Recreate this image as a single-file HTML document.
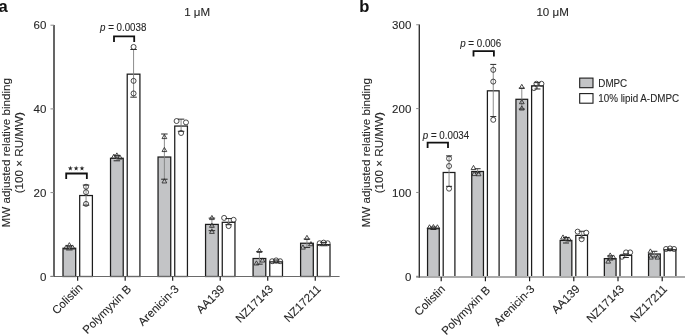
<!DOCTYPE html>
<html><head><meta charset="utf-8"><style>
html,body{margin:0;padding:0;background:#fff;width:685px;height:335px;overflow:hidden;}
svg{display:block;will-change:transform;} text{stroke:#262626;stroke-width:0.1px;}
</style></head><body>
<svg width="685" height="335" viewBox="0 0 685 335" font-family='"Liberation Sans", sans-serif'>
<rect width="685" height="335" fill="#fff"/>
<rect x="63.00" y="248.26" width="12.70" height="28.24" fill="#c3c4c6" stroke="#1c1c1c" stroke-width="1.25"/>
<line x1="69.35" y1="245.75" x2="69.35" y2="249.93" stroke="#808080" stroke-width="0.9"/>
<line x1="66.10" y1="245.75" x2="72.60" y2="245.75" stroke="#2a2a2a" stroke-width="1"/>
<line x1="66.10" y1="249.93" x2="72.60" y2="249.93" stroke="#2a2a2a" stroke-width="1"/>
<polygon points="63.75,249.08 68.55,249.08 66.15,244.93" fill="none" stroke="#2a2a2a" stroke-width="0.85"/>
<polygon points="66.95,246.78 71.75,246.78 69.35,242.62" fill="none" stroke="#2a2a2a" stroke-width="0.85"/>
<polygon points="70.15,249.08 74.95,249.08 72.55,244.93" fill="none" stroke="#2a2a2a" stroke-width="0.85"/>
<rect x="79.70" y="195.53" width="12.70" height="80.97" fill="#fff" stroke="#1c1c1c" stroke-width="1.25"/>
<line x1="86.05" y1="185.07" x2="86.05" y2="205.16" stroke="#808080" stroke-width="0.9"/>
<line x1="82.80" y1="185.07" x2="89.30" y2="185.07" stroke="#2a2a2a" stroke-width="1"/>
<line x1="82.80" y1="205.16" x2="89.30" y2="205.16" stroke="#2a2a2a" stroke-width="1"/>
<circle cx="86.05" cy="186.74" r="2.5" fill="none" stroke="#2a2a2a" stroke-width="0.85"/>
<circle cx="86.05" cy="192.18" r="2.5" fill="none" stroke="#2a2a2a" stroke-width="0.85"/>
<circle cx="86.05" cy="203.90" r="2.5" fill="none" stroke="#2a2a2a" stroke-width="0.85"/>
<rect x="110.52" y="158.28" width="12.70" height="118.22" fill="#c3c4c6" stroke="#1c1c1c" stroke-width="1.25"/>
<line x1="116.87" y1="155.35" x2="116.87" y2="160.79" stroke="#808080" stroke-width="0.9"/>
<line x1="113.62" y1="155.35" x2="120.12" y2="155.35" stroke="#2a2a2a" stroke-width="1"/>
<line x1="113.62" y1="160.79" x2="120.12" y2="160.79" stroke="#2a2a2a" stroke-width="1"/>
<polygon points="111.47,158.27 116.27,158.27 113.87,154.11" fill="none" stroke="#2a2a2a" stroke-width="0.85"/>
<polygon points="114.47,157.01 119.27,157.01 116.87,152.86" fill="none" stroke="#2a2a2a" stroke-width="0.85"/>
<polygon points="117.47,159.11 122.27,159.11 119.87,154.95" fill="none" stroke="#2a2a2a" stroke-width="0.85"/>
<rect x="127.22" y="74.16" width="12.70" height="202.34" fill="#fff" stroke="#1c1c1c" stroke-width="1.25"/>
<line x1="133.57" y1="49.47" x2="133.57" y2="97.18" stroke="#808080" stroke-width="0.9"/>
<line x1="130.32" y1="49.47" x2="136.82" y2="49.47" stroke="#2a2a2a" stroke-width="1"/>
<line x1="130.32" y1="97.18" x2="136.82" y2="97.18" stroke="#2a2a2a" stroke-width="1"/>
<circle cx="133.57" cy="46.96" r="2.5" fill="none" stroke="#2a2a2a" stroke-width="0.85"/>
<circle cx="133.57" cy="80.86" r="2.5" fill="none" stroke="#2a2a2a" stroke-width="0.85"/>
<circle cx="133.57" cy="93.42" r="2.5" fill="none" stroke="#2a2a2a" stroke-width="0.85"/>
<rect x="158.04" y="157.03" width="12.70" height="119.47" fill="#c3c4c6" stroke="#1c1c1c" stroke-width="1.25"/>
<line x1="164.39" y1="134.01" x2="164.39" y2="179.21" stroke="#808080" stroke-width="0.9"/>
<line x1="161.14" y1="134.01" x2="167.64" y2="134.01" stroke="#2a2a2a" stroke-width="1"/>
<line x1="161.14" y1="179.21" x2="167.64" y2="179.21" stroke="#2a2a2a" stroke-width="1"/>
<polygon points="161.99,138.60 166.79,138.60 164.39,134.44" fill="none" stroke="#2a2a2a" stroke-width="0.85"/>
<polygon points="161.99,151.57 166.79,151.57 164.39,147.42" fill="none" stroke="#2a2a2a" stroke-width="0.85"/>
<polygon points="161.99,182.96 166.79,182.96 164.39,178.80" fill="none" stroke="#2a2a2a" stroke-width="0.85"/>
<rect x="174.74" y="126.06" width="12.70" height="150.44" fill="#fff" stroke="#1c1c1c" stroke-width="1.25"/>
<line x1="181.09" y1="119.15" x2="181.09" y2="131.29" stroke="#808080" stroke-width="0.9"/>
<line x1="177.84" y1="119.15" x2="184.34" y2="119.15" stroke="#2a2a2a" stroke-width="1"/>
<line x1="177.84" y1="131.29" x2="184.34" y2="131.29" stroke="#2a2a2a" stroke-width="1"/>
<circle cx="176.59" cy="121.04" r="2.5" fill="none" stroke="#2a2a2a" stroke-width="0.85"/>
<circle cx="185.99" cy="122.42" r="2.5" fill="none" stroke="#2a2a2a" stroke-width="0.85"/>
<circle cx="181.09" cy="133.01" r="2.5" fill="none" stroke="#2a2a2a" stroke-width="0.85"/>
<rect x="205.56" y="224.41" width="12.70" height="52.09" fill="#c3c4c6" stroke="#1c1c1c" stroke-width="1.25"/>
<line x1="211.91" y1="218.13" x2="211.91" y2="230.68" stroke="#808080" stroke-width="0.9"/>
<line x1="208.66" y1="218.13" x2="215.16" y2="218.13" stroke="#2a2a2a" stroke-width="1"/>
<line x1="208.66" y1="230.68" x2="215.16" y2="230.68" stroke="#2a2a2a" stroke-width="1"/>
<polygon points="209.51,219.58 214.31,219.58 211.91,215.42" fill="none" stroke="#2a2a2a" stroke-width="0.85"/>
<polygon points="209.51,227.32 214.31,227.32 211.91,223.16" fill="none" stroke="#2a2a2a" stroke-width="0.85"/>
<polygon points="209.51,233.39 214.31,233.39 211.91,229.23" fill="none" stroke="#2a2a2a" stroke-width="0.85"/>
<rect x="222.26" y="222.31" width="12.70" height="54.19" fill="#fff" stroke="#1c1c1c" stroke-width="1.25"/>
<line x1="228.61" y1="218.55" x2="228.61" y2="224.70" stroke="#808080" stroke-width="0.9"/>
<line x1="225.36" y1="218.55" x2="231.86" y2="218.55" stroke="#2a2a2a" stroke-width="1"/>
<line x1="225.36" y1="224.70" x2="231.86" y2="224.70" stroke="#2a2a2a" stroke-width="1"/>
<circle cx="224.11" cy="217.92" r="2.5" fill="none" stroke="#2a2a2a" stroke-width="0.85"/>
<circle cx="233.61" cy="219.80" r="2.5" fill="none" stroke="#2a2a2a" stroke-width="0.85"/>
<circle cx="228.61" cy="226.08" r="2.5" fill="none" stroke="#2a2a2a" stroke-width="0.85"/>
<rect x="253.08" y="258.51" width="12.70" height="17.99" fill="#c3c4c6" stroke="#1c1c1c" stroke-width="1.25"/>
<line x1="259.43" y1="251.61" x2="259.43" y2="264.16" stroke="#808080" stroke-width="0.9"/>
<line x1="256.18" y1="251.61" x2="262.68" y2="251.61" stroke="#2a2a2a" stroke-width="1"/>
<line x1="256.18" y1="264.16" x2="262.68" y2="264.16" stroke="#2a2a2a" stroke-width="1"/>
<polygon points="257.03,252.43 261.83,252.43 259.43,248.27" fill="none" stroke="#2a2a2a" stroke-width="0.85"/>
<polygon points="254.03,264.99 258.83,264.99 256.43,260.83" fill="none" stroke="#2a2a2a" stroke-width="0.85"/>
<polygon points="260.03,262.06 264.83,262.06 262.43,257.90" fill="none" stroke="#2a2a2a" stroke-width="0.85"/>
<rect x="269.78" y="261.86" width="12.70" height="14.64" fill="#fff" stroke="#1c1c1c" stroke-width="1.25"/>
<line x1="276.13" y1="259.98" x2="276.13" y2="262.91" stroke="#808080" stroke-width="0.9"/>
<line x1="272.88" y1="259.98" x2="279.38" y2="259.98" stroke="#2a2a2a" stroke-width="1"/>
<line x1="272.88" y1="262.91" x2="279.38" y2="262.91" stroke="#2a2a2a" stroke-width="1"/>
<circle cx="272.13" cy="261.23" r="2.5" fill="none" stroke="#2a2a2a" stroke-width="0.85"/>
<circle cx="276.13" cy="260.40" r="2.5" fill="none" stroke="#2a2a2a" stroke-width="0.85"/>
<circle cx="280.13" cy="261.23" r="2.5" fill="none" stroke="#2a2a2a" stroke-width="0.85"/>
<rect x="300.60" y="243.24" width="12.70" height="33.26" fill="#c3c4c6" stroke="#1c1c1c" stroke-width="1.25"/>
<line x1="306.95" y1="239.05" x2="306.95" y2="247.42" stroke="#808080" stroke-width="0.9"/>
<line x1="303.70" y1="239.05" x2="310.20" y2="239.05" stroke="#2a2a2a" stroke-width="1"/>
<line x1="303.70" y1="247.42" x2="310.20" y2="247.42" stroke="#2a2a2a" stroke-width="1"/>
<polygon points="304.55,239.46 309.35,239.46 306.95,235.30" fill="none" stroke="#2a2a2a" stroke-width="0.85"/>
<polygon points="300.55,249.08 305.35,249.08 302.95,244.93" fill="none" stroke="#2a2a2a" stroke-width="0.85"/>
<polygon points="308.55,245.74 313.35,245.74 310.95,241.58" fill="none" stroke="#2a2a2a" stroke-width="0.85"/>
<rect x="317.30" y="244.70" width="12.70" height="31.80" fill="#fff" stroke="#1c1c1c" stroke-width="1.25"/>
<line x1="323.65" y1="242.40" x2="323.65" y2="245.75" stroke="#808080" stroke-width="0.9"/>
<line x1="320.40" y1="242.40" x2="326.90" y2="242.40" stroke="#2a2a2a" stroke-width="1"/>
<line x1="320.40" y1="245.75" x2="326.90" y2="245.75" stroke="#2a2a2a" stroke-width="1"/>
<circle cx="319.65" cy="243.24" r="2.5" fill="none" stroke="#2a2a2a" stroke-width="0.85"/>
<circle cx="323.65" cy="242.61" r="2.5" fill="none" stroke="#2a2a2a" stroke-width="0.85"/>
<circle cx="327.65" cy="243.24" r="2.5" fill="none" stroke="#2a2a2a" stroke-width="0.85"/>
<line x1="50.5" y1="276.5" x2="339.6" y2="276.5" stroke="#6a6a6a" stroke-width="1.2"/>
<line x1="54" y1="25.05" x2="54" y2="277.1" stroke="#555" stroke-width="1.8"/>
<line x1="50.5" y1="276.30" x2="54" y2="276.30" stroke="#8a8a8a" stroke-width="1"/>
<text x="46.3" y="280.50" text-anchor="end" font-size="11.5" fill="#262626">0</text>
<line x1="50.5" y1="192.60" x2="54" y2="192.60" stroke="#8a8a8a" stroke-width="1"/>
<text x="46.3" y="196.80" text-anchor="end" font-size="11.5" fill="#262626">20</text>
<line x1="50.5" y1="108.90" x2="54" y2="108.90" stroke="#8a8a8a" stroke-width="1"/>
<text x="46.3" y="113.10" text-anchor="end" font-size="11.5" fill="#262626">40</text>
<line x1="50.5" y1="25.20" x2="54" y2="25.20" stroke="#8a8a8a" stroke-width="1"/>
<text x="46.3" y="29.40" text-anchor="end" font-size="11.5" fill="#262626">60</text>
<line x1="77.65" y1="276.5" x2="77.65" y2="280.7" stroke="#151515" stroke-width="1.15"/>
<text x="83.35" y="288.40" text-anchor="end" font-size="11.5" fill="#262626" transform="rotate(-45 83.35 288.40)">Colistin</text>
<line x1="125.17" y1="276.5" x2="125.17" y2="280.7" stroke="#151515" stroke-width="1.15"/>
<text x="131.97" y="289.80" text-anchor="end" font-size="11.5" fill="#262626" transform="rotate(-45 131.97 289.80)">Polymyxin B</text>
<line x1="172.69" y1="276.5" x2="172.69" y2="280.7" stroke="#151515" stroke-width="1.15"/>
<text x="179.49" y="289.80" text-anchor="end" font-size="11.5" fill="#262626" transform="rotate(-45 179.49 289.80)">Arenicin-3</text>
<line x1="220.21" y1="276.5" x2="220.21" y2="280.7" stroke="#151515" stroke-width="1.15"/>
<text x="225.31" y="289.80" text-anchor="end" font-size="11.5" fill="#262626" transform="rotate(-45 225.31 289.80)">AA139</text>
<line x1="267.73" y1="276.5" x2="267.73" y2="280.7" stroke="#151515" stroke-width="1.15"/>
<text x="273.73" y="289.80" text-anchor="end" font-size="11.5" fill="#262626" transform="rotate(-45 273.73 289.80)">NZ17143</text>
<line x1="315.25" y1="276.5" x2="315.25" y2="280.7" stroke="#151515" stroke-width="1.15"/>
<text x="321.55" y="289.80" text-anchor="end" font-size="11.5" fill="#262626" transform="rotate(-45 321.55 289.80)">NZ17211</text>
<rect x="427.55" y="228.25" width="11.70" height="48.75" fill="#c3c4c6" stroke="#1c1c1c" stroke-width="1.25"/>
<line x1="433.40" y1="227.00" x2="433.40" y2="229.51" stroke="#808080" stroke-width="0.9"/>
<line x1="430.40" y1="227.00" x2="436.40" y2="227.00" stroke="#2a2a2a" stroke-width="1"/>
<line x1="430.40" y1="229.51" x2="436.40" y2="229.51" stroke="#2a2a2a" stroke-width="1"/>
<polygon points="427.10,228.91 431.90,228.91 429.50,224.75" fill="none" stroke="#2a2a2a" stroke-width="0.85"/>
<polygon points="431.00,228.66 435.80,228.66 433.40,224.50" fill="none" stroke="#2a2a2a" stroke-width="0.85"/>
<polygon points="435.00,228.91 439.80,228.91 437.40,224.75" fill="none" stroke="#2a2a2a" stroke-width="0.85"/>
<rect x="443.20" y="172.49" width="11.70" height="104.51" fill="#fff" stroke="#1c1c1c" stroke-width="1.25"/>
<line x1="449.05" y1="155.89" x2="449.05" y2="186.33" stroke="#808080" stroke-width="0.9"/>
<line x1="446.05" y1="155.89" x2="452.05" y2="155.89" stroke="#2a2a2a" stroke-width="1"/>
<line x1="446.05" y1="186.33" x2="452.05" y2="186.33" stroke="#2a2a2a" stroke-width="1"/>
<circle cx="449.05" cy="158.57" r="2.5" fill="none" stroke="#2a2a2a" stroke-width="0.85"/>
<circle cx="449.05" cy="166.04" r="2.5" fill="none" stroke="#2a2a2a" stroke-width="0.85"/>
<circle cx="449.05" cy="188.68" r="2.5" fill="none" stroke="#2a2a2a" stroke-width="0.85"/>
<rect x="471.75" y="171.49" width="11.70" height="105.51" fill="#c3c4c6" stroke="#1c1c1c" stroke-width="1.25"/>
<line x1="477.60" y1="168.72" x2="477.60" y2="172.83" stroke="#808080" stroke-width="0.9"/>
<line x1="474.60" y1="168.72" x2="480.60" y2="168.72" stroke="#2a2a2a" stroke-width="1"/>
<line x1="474.60" y1="172.83" x2="480.60" y2="172.83" stroke="#2a2a2a" stroke-width="1"/>
<polygon points="471.10,169.54 475.90,169.54 473.50,165.38" fill="none" stroke="#2a2a2a" stroke-width="0.85"/>
<polygon points="471.90,175.58 476.70,175.58 474.30,171.42" fill="none" stroke="#2a2a2a" stroke-width="0.85"/>
<polygon points="476.20,175.75 481.00,175.75 478.60,171.59" fill="none" stroke="#2a2a2a" stroke-width="0.85"/>
<rect x="487.40" y="90.82" width="11.70" height="186.18" fill="#fff" stroke="#1c1c1c" stroke-width="1.25"/>
<line x1="493.25" y1="64.41" x2="493.25" y2="116.57" stroke="#808080" stroke-width="0.9"/>
<line x1="490.25" y1="64.41" x2="496.25" y2="64.41" stroke="#2a2a2a" stroke-width="1"/>
<line x1="490.25" y1="116.57" x2="496.25" y2="116.57" stroke="#2a2a2a" stroke-width="1"/>
<circle cx="493.25" cy="69.86" r="2.5" fill="none" stroke="#2a2a2a" stroke-width="0.85"/>
<circle cx="493.25" cy="81.60" r="2.5" fill="none" stroke="#2a2a2a" stroke-width="0.85"/>
<circle cx="493.25" cy="119.84" r="2.5" fill="none" stroke="#2a2a2a" stroke-width="0.85"/>
<rect x="515.95" y="99.29" width="11.70" height="177.71" fill="#c3c4c6" stroke="#1c1c1c" stroke-width="1.25"/>
<line x1="521.80" y1="88.14" x2="521.80" y2="109.02" stroke="#808080" stroke-width="0.9"/>
<line x1="518.80" y1="88.14" x2="524.80" y2="88.14" stroke="#2a2a2a" stroke-width="1"/>
<line x1="518.80" y1="109.02" x2="524.80" y2="109.02" stroke="#2a2a2a" stroke-width="1"/>
<polygon points="519.40,88.46 524.20,88.46 521.80,84.30" fill="none" stroke="#2a2a2a" stroke-width="0.85"/>
<polygon points="519.40,103.72 524.20,103.72 521.80,99.56" fill="none" stroke="#2a2a2a" stroke-width="0.85"/>
<polygon points="519.40,110.01 524.20,110.01 521.80,105.85" fill="none" stroke="#2a2a2a" stroke-width="0.85"/>
<rect x="531.60" y="85.88" width="11.70" height="191.12" fill="#fff" stroke="#1c1c1c" stroke-width="1.25"/>
<line x1="537.45" y1="82.61" x2="537.45" y2="88.98" stroke="#808080" stroke-width="0.9"/>
<line x1="534.45" y1="82.61" x2="540.45" y2="82.61" stroke="#2a2a2a" stroke-width="1"/>
<line x1="534.45" y1="88.98" x2="540.45" y2="88.98" stroke="#2a2a2a" stroke-width="1"/>
<circle cx="536.45" cy="83.78" r="2.5" fill="none" stroke="#2a2a2a" stroke-width="0.85"/>
<circle cx="541.45" cy="83.78" r="2.5" fill="none" stroke="#2a2a2a" stroke-width="0.85"/>
<circle cx="533.95" cy="88.06" r="2.5" fill="none" stroke="#2a2a2a" stroke-width="0.85"/>
<rect x="560.15" y="240.41" width="11.70" height="36.59" fill="#c3c4c6" stroke="#1c1c1c" stroke-width="1.25"/>
<line x1="566.00" y1="237.48" x2="566.00" y2="243.01" stroke="#808080" stroke-width="0.9"/>
<line x1="563.00" y1="237.48" x2="569.00" y2="237.48" stroke="#2a2a2a" stroke-width="1"/>
<line x1="563.00" y1="243.01" x2="569.00" y2="243.01" stroke="#2a2a2a" stroke-width="1"/>
<polygon points="560.60,239.05 565.40,239.05 563.00,234.90" fill="none" stroke="#2a2a2a" stroke-width="0.85"/>
<polygon points="563.60,240.23 568.40,240.23 566.00,236.07" fill="none" stroke="#2a2a2a" stroke-width="0.85"/>
<polygon points="566.60,241.07 571.40,241.07 569.00,236.91" fill="none" stroke="#2a2a2a" stroke-width="0.85"/>
<rect x="575.80" y="235.38" width="11.70" height="41.62" fill="#fff" stroke="#1c1c1c" stroke-width="1.25"/>
<line x1="581.65" y1="231.27" x2="581.65" y2="237.90" stroke="#808080" stroke-width="0.9"/>
<line x1="578.65" y1="231.27" x2="584.65" y2="231.27" stroke="#2a2a2a" stroke-width="1"/>
<line x1="578.65" y1="237.90" x2="584.65" y2="237.90" stroke="#2a2a2a" stroke-width="1"/>
<circle cx="577.65" cy="231.61" r="2.5" fill="none" stroke="#2a2a2a" stroke-width="0.85"/>
<circle cx="586.25" cy="232.70" r="2.5" fill="none" stroke="#2a2a2a" stroke-width="0.85"/>
<circle cx="581.65" cy="239.20" r="2.5" fill="none" stroke="#2a2a2a" stroke-width="0.85"/>
<rect x="604.35" y="258.61" width="11.70" height="18.39" fill="#c3c4c6" stroke="#1c1c1c" stroke-width="1.25"/>
<line x1="610.20" y1="255.84" x2="610.20" y2="260.03" stroke="#808080" stroke-width="0.9"/>
<line x1="607.20" y1="255.84" x2="613.20" y2="255.84" stroke="#2a2a2a" stroke-width="1"/>
<line x1="607.20" y1="260.03" x2="613.20" y2="260.03" stroke="#2a2a2a" stroke-width="1"/>
<polygon points="607.80,257.08 612.60,257.08 610.20,252.92" fill="none" stroke="#2a2a2a" stroke-width="0.85"/>
<polygon points="611.10,259.09 615.90,259.09 613.50,254.94" fill="none" stroke="#2a2a2a" stroke-width="0.85"/>
<polygon points="605.80,263.12 610.60,263.12 608.20,258.96" fill="none" stroke="#2a2a2a" stroke-width="0.85"/>
<rect x="620.00" y="255.42" width="11.70" height="21.58" fill="#fff" stroke="#1c1c1c" stroke-width="1.25"/>
<line x1="625.85" y1="253.91" x2="625.85" y2="257.52" stroke="#808080" stroke-width="0.9"/>
<line x1="622.85" y1="253.91" x2="628.85" y2="253.91" stroke="#2a2a2a" stroke-width="1"/>
<line x1="622.85" y1="257.52" x2="628.85" y2="257.52" stroke="#2a2a2a" stroke-width="1"/>
<circle cx="621.95" cy="256.76" r="2.5" fill="none" stroke="#2a2a2a" stroke-width="0.85"/>
<circle cx="626.05" cy="252.40" r="2.5" fill="none" stroke="#2a2a2a" stroke-width="0.85"/>
<circle cx="630.15" cy="252.40" r="2.5" fill="none" stroke="#2a2a2a" stroke-width="0.85"/>
<rect x="648.55" y="254.00" width="11.70" height="23.00" fill="#c3c4c6" stroke="#1c1c1c" stroke-width="1.25"/>
<line x1="654.40" y1="251.31" x2="654.40" y2="257.01" stroke="#808080" stroke-width="0.9"/>
<line x1="651.40" y1="251.31" x2="657.40" y2="251.31" stroke="#2a2a2a" stroke-width="1"/>
<line x1="651.40" y1="257.01" x2="657.40" y2="257.01" stroke="#2a2a2a" stroke-width="1"/>
<polygon points="648.00,253.06 652.80,253.06 650.40,248.90" fill="none" stroke="#2a2a2a" stroke-width="0.85"/>
<polygon points="648.50,259.09 653.30,259.09 650.90,254.94" fill="none" stroke="#2a2a2a" stroke-width="0.85"/>
<polygon points="655.00,259.09 659.80,259.09 657.40,254.94" fill="none" stroke="#2a2a2a" stroke-width="0.85"/>
<rect x="664.20" y="249.80" width="11.70" height="27.20" fill="#fff" stroke="#1c1c1c" stroke-width="1.25"/>
<line x1="670.05" y1="248.96" x2="670.05" y2="250.64" stroke="#808080" stroke-width="0.9"/>
<line x1="667.05" y1="248.96" x2="673.05" y2="248.96" stroke="#2a2a2a" stroke-width="1"/>
<line x1="667.05" y1="250.64" x2="673.05" y2="250.64" stroke="#2a2a2a" stroke-width="1"/>
<circle cx="666.05" cy="248.96" r="2.5" fill="none" stroke="#2a2a2a" stroke-width="0.85"/>
<circle cx="670.05" cy="248.46" r="2.5" fill="none" stroke="#2a2a2a" stroke-width="0.85"/>
<circle cx="674.05" cy="248.96" r="2.5" fill="none" stroke="#2a2a2a" stroke-width="0.85"/>
<line x1="416.2" y1="277" x2="685" y2="277" stroke="#ababab" stroke-width="1.8"/>
<line x1="419.3" y1="24.60" x2="419.3" y2="277.6" stroke="#333" stroke-width="1.4"/>
<line x1="416.2" y1="276.30" x2="419.3" y2="276.30" stroke="#8a8a8a" stroke-width="1"/>
<text x="411.3" y="280.50" text-anchor="end" font-size="11.5" fill="#262626">0</text>
<line x1="416.2" y1="192.45" x2="419.3" y2="192.45" stroke="#8a8a8a" stroke-width="1"/>
<text x="411.3" y="196.65" text-anchor="end" font-size="11.5" fill="#262626">100</text>
<line x1="416.2" y1="108.60" x2="419.3" y2="108.60" stroke="#8a8a8a" stroke-width="1"/>
<text x="411.3" y="112.80" text-anchor="end" font-size="11.5" fill="#262626">200</text>
<line x1="416.2" y1="24.75" x2="419.3" y2="24.75" stroke="#8a8a8a" stroke-width="1"/>
<text x="411.3" y="28.95" text-anchor="end" font-size="11.5" fill="#262626">300</text>
<line x1="441.20" y1="277" x2="441.20" y2="281.2" stroke="#151515" stroke-width="1.15"/>
<text x="445.80" y="289.80" text-anchor="end" font-size="11.5" fill="#262626" transform="rotate(-45 445.80 289.80)">Colistin</text>
<line x1="485.40" y1="277" x2="485.40" y2="281.2" stroke="#151515" stroke-width="1.15"/>
<text x="490.90" y="290.70" text-anchor="end" font-size="11.5" fill="#262626" transform="rotate(-45 490.90 290.70)">Polymyxin B</text>
<line x1="529.60" y1="277" x2="529.60" y2="281.2" stroke="#151515" stroke-width="1.15"/>
<text x="535.20" y="289.80" text-anchor="end" font-size="11.5" fill="#262626" transform="rotate(-45 535.20 289.80)">Arenicin-3</text>
<line x1="573.80" y1="277" x2="573.80" y2="281.2" stroke="#151515" stroke-width="1.15"/>
<text x="580.60" y="289.80" text-anchor="end" font-size="11.5" fill="#262626" transform="rotate(-45 580.60 289.80)">AA139</text>
<line x1="618.00" y1="277" x2="618.00" y2="281.2" stroke="#151515" stroke-width="1.15"/>
<text x="624.80" y="289.80" text-anchor="end" font-size="11.5" fill="#262626" transform="rotate(-45 624.80 289.80)">NZ17143</text>
<line x1="662.20" y1="277" x2="662.20" y2="281.2" stroke="#151515" stroke-width="1.15"/>
<text x="667.90" y="289.80" text-anchor="end" font-size="11.5" fill="#262626" transform="rotate(-45 667.90 289.80)">NZ17211</text>
<text x="-1.4" y="11.7" font-size="16.5" font-weight="bold" fill="#111">a</text>
<text x="359.3" y="11.8" font-size="16.5" font-weight="bold" fill="#111">b</text>
<text transform="translate(197.2 16.45) scale(0.985 1)" text-anchor="middle" font-size="11.75" fill="#262626">1 μM</text>
<text transform="translate(552.6 16.45) scale(0.985 1)" text-anchor="middle" font-size="11.75" fill="#262626">10 μM</text>
<text transform="translate(9.6 152.7) rotate(-90)" text-anchor="middle" font-size="11.65" fill="#262626">MW adjusted relative binding</text>
<text transform="translate(23.0 152.7) rotate(-90)" text-anchor="middle" font-size="11.65" fill="#262626">(100 × RU/MW)</text>
<text transform="translate(369.6 152.7) rotate(-90)" text-anchor="middle" font-size="11.65" fill="#262626">MW adjusted relative binding</text>
<text transform="translate(383.0 152.7) rotate(-90)" text-anchor="middle" font-size="11.65" fill="#262626">(100 × RU/MW)</text>
<polyline points="66.2,178.9 66.2,173.5 86.85,173.5 86.85,178.9" fill="none" stroke="#111" stroke-width="1.8"/>
<polygon points="70.35,165.80 70.93,167.60 72.82,167.60 71.29,168.71 71.88,170.50 70.35,169.39 68.82,170.50 69.41,168.71 67.88,167.60 69.77,167.60" fill="#262626"/>
<polygon points="76.15,165.80 76.73,167.60 78.62,167.60 77.09,168.71 77.68,170.50 76.15,169.39 74.62,170.50 75.21,168.71 73.68,167.60 75.57,167.60" fill="#262626"/>
<polygon points="82.00,165.80 82.58,167.60 84.47,167.60 82.94,168.71 83.53,170.50 82.00,169.39 80.47,170.50 81.06,168.71 79.53,167.60 81.42,167.60" fill="#262626"/>
<polyline points="114,41.9 114,36.4 134.2,36.4 134.2,41.9" fill="none" stroke="#111" stroke-width="1.8"/>
<text transform="translate(100 31.1) scale(0.905 1)" font-size="10.8" fill="#262626"><tspan font-style="italic">p</tspan> = 0.0038</text>
<polyline points="427.6,147.9 427.6,142.6 448,142.6 448,147.9" fill="none" stroke="#111" stroke-width="1.8"/>
<text transform="translate(422.8 138.8) scale(0.905 1)" font-size="10.8" fill="#262626"><tspan font-style="italic">p</tspan> = 0.0034</text>
<polyline points="473.5,56.4 473.5,51.05 493.9,51.05 493.9,56.4" fill="none" stroke="#111" stroke-width="1.8"/>
<text transform="translate(460.2 46.7) scale(0.905 1)" font-size="10.8" fill="#262626"><tspan font-style="italic">p</tspan> = 0.006</text>
<rect x="579.7" y="78.1" width="13.3" height="9.6" fill="#c3c4c6" stroke="#1c1c1c" stroke-width="1.1"/>
<rect x="579.7" y="93.6" width="13.3" height="9.6" fill="#fff" stroke="#1c1c1c" stroke-width="1.1"/>
<text transform="translate(598.3 86.9) scale(0.91 1)" font-size="10.8" fill="#262626">DMPC</text>
<text transform="translate(598.3 102) scale(0.91 1)" font-size="10.8" fill="#262626">10% lipid A-DMPC</text>
</svg>
</body></html>
